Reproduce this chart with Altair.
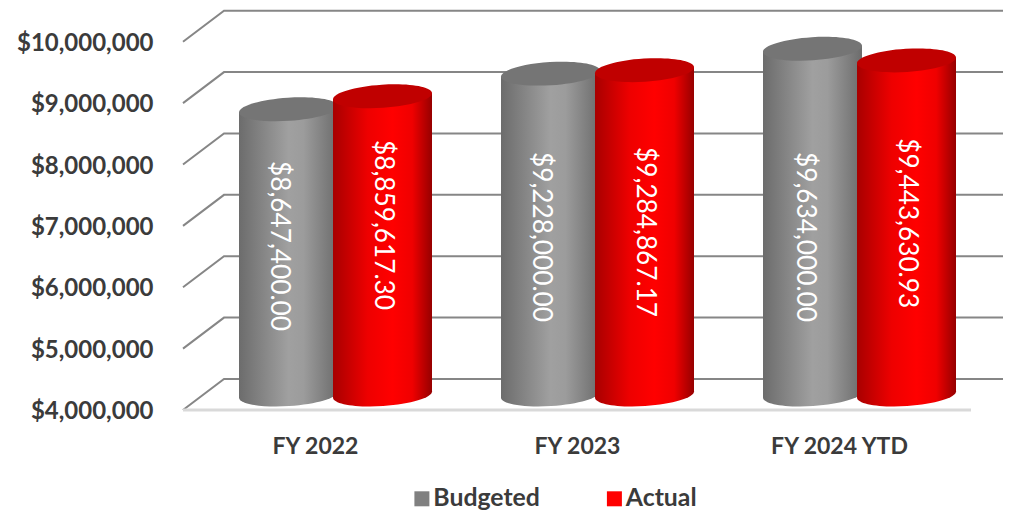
import altair as alt
import pandas as pd

categories = ["FY 2022", "FY 2023", "FY 2024 YTD"]
budgeted = [8647400.00, 9228000.00, 9634000.00]
actual = [8859617.30, 9284867.17, 9443630.93]
y_ticks = [4e6, 5e6, 6e6, 7e6, 8e6, 9e6, 10e6]
label_y_budgeted = [6672000, 6819000, 6819000]
label_y_actual = [7014000, 6899000, 7044000]

# Page geometry of the pseudo-3D frame, expressed through the scales
PX_PER_UNIT_X = 262.0
PX_PER_DOLLAR = 61.36 / 1e6
LEFT, RIGHT, CENTER0 = 183.0, 1003.0, 315.0
DEPTH_X = 41.0 / PX_PER_UNIT_X
DEPTH_Y = 31.0 / PX_PER_DOLLAR
BAR_W = 99.0 / PX_PER_UNIT_X
TILT = 3.0 / PX_PER_DOLLAR
X_DOMAIN = [(LEFT - CENTER0) / PX_PER_UNIT_X, (RIGHT - CENTER0) / PX_PER_UNIT_X]
Y_DOMAIN = [4e6, 10.55e6]
BASE = 4e6
OFFSETS = {"Budgeted": -26.5 / PX_PER_UNIT_X, "Actual": 67.5 / PX_PER_UNIT_X}
LABEL_DX = {"Budgeted": [-10, -10, -8], "Actual": [0, 0, 0]}
TEXT = "#3b3b3b"

x_scale = alt.Scale(domain=X_DOMAIN, nice=False, zero=False)
y_scale = alt.Scale(domain=Y_DOMAIN, nice=False, zero=False)

# Frame lines
frame = []
for v in y_ticks:
    frame += [
        {"k": v, "o": 0, "x": X_DOMAIN[0], "y": v},
        {"k": v, "o": 1, "x": X_DOMAIN[0] + DEPTH_X, "y": v + DEPTH_Y},
        {"k": v, "o": 2, "x": X_DOMAIN[1], "y": v + DEPTH_Y},
    ]
floor = pd.DataFrame(
    [{"k": 0, "o": 0, "x": X_DOMAIN[0], "y": BASE},
     {"k": 0, "o": 1, "x": 2.5 + 1 / PX_PER_UNIT_X, "y": BASE}]
)
grid = alt.Chart(pd.DataFrame(frame)).mark_line(color="#868686", strokeWidth=2).encode(
    x=alt.X("x:Q", scale=x_scale, title=None,
            axis=alt.Axis(values=[0, 1, 2], grid=False, domain=False, ticks=False,
                          labelExpr="['FY 2022','FY 2023','FY 2024 YTD'][datum.value]",
                          labelFont="Lato", labelFontSize=23, labelFontWeight="bold",
                          labelColor=TEXT, labelPadding=25, labelFlush=False,
                          labelOverlap=False)),
    y=alt.Y("y:Q", scale=y_scale, title=None,
            axis=alt.Axis(values=y_ticks, format="$,.0f", grid=False, domain=False, ticks=False,
                          labelFont="Lato", labelFontSize=24, labelFontWeight="bold",
                          labelColor=TEXT, labelPadding=30, labelOffset=1.5)),
    detail="k:N", order="o:Q",
)
floor_line = alt.Chart(floor).mark_line(color="#d9d9d9", strokeWidth=3).encode(
    x=alt.X("x:Q", scale=x_scale), y=alt.Y("y:Q", scale=y_scale), detail="k:N", order="o:Q"
)

ELLIPSE = "M-1,0.064 A1.002,0.234,-3.67,1,1,1,-0.064 A1.002,0.234,-3.67,1,1,-1,0.064 Z"


def grad(stops):
    return alt.Gradient(
        gradient="linear", x1=0, x2=1, y1=0, y2=0,
        stops=[alt.GradientStop(offset=o, color=c) for o, c in stops],
    )


def cylinder(series, values, stops, top_color):
    fill = grad(stops)
    caps = []
    body_layers = []
    for i, v in enumerate(values):
        c = i + OFFSETS[series]
        body = pd.DataFrame([
            {"px": c - BAR_W / 2, "hi": v + DEPTH_Y / 2 - TILT, "lo": BASE + DEPTH_Y / 2 - TILT},
            {"px": c + BAR_W / 2, "hi": v + DEPTH_Y / 2 + TILT, "lo": BASE + DEPTH_Y / 2 + TILT},
        ])
        body_layers.append(alt.Chart(body).mark_area(fill=fill, opacity=1).encode(
            x=alt.X("px:Q", scale=x_scale),
            y=alt.Y("hi:Q", scale=y_scale),
            y2=alt.Y2("lo"),
        ))
        caps.append({"x": c, "top": v + DEPTH_Y / 2, "bottom": BASE + DEPTH_Y / 2})
    caps = pd.DataFrame(caps)
    X = alt.X("x:Q", scale=x_scale)
    bottom = alt.Chart(caps).mark_point(shape=ELLIPSE, filled=True, fill=fill, size=9801, opacity=1, strokeWidth=0).encode(
        x=X, y=alt.Y("bottom:Q", scale=y_scale))
    top = alt.Chart(caps).mark_point(shape=ELLIPSE, filled=True, fill=top_color, size=9801, opacity=1, strokeWidth=0).encode(
        x=X, y=alt.Y("top:Q", scale=y_scale))
    return [bottom] + body_layers + [top]


GRAY = [(0, "#6c6c6c"), (0.5, "#a0a0a0"), (0.65, "#9c9c9c"), (1, "#6c6c6c")]
RED = [(0, "#a80000"), (0.35, "#ee0000"), (0.6, "#ff0000"), (0.8, "#f00000"), (1, "#960000")]

layers = [grid, floor_line]
layers += cylinder("Budgeted", budgeted, GRAY, "#757575")
layers += cylinder("Actual", actual, RED, "#c00000")


def labels(series, values, ys):
    rows = []
    for i, v in enumerate(values):
        rows.append({"x": i + OFFSETS[series] + LABEL_DX[series][i] / PX_PER_UNIT_X,
                     "y": ys[i], "t": f"${v:,.2f}"})
    return alt.Chart(pd.DataFrame(rows)).mark_text(
        angle=90, align="center", baseline="middle", font="Lato", fontSize=26.2, color="white"
    ).encode(x=alt.X("x:Q", scale=x_scale), y=alt.Y("y:Q", scale=y_scale), text="t:N")


layers += [labels("Budgeted", budgeted, label_y_budgeted), labels("Actual", actual, label_y_actual)]

legend_data = pd.DataFrame({"s": ["Budgeted", "Actual"], "x": [0, 0], "y": [5e6, 5e6]})
legend_layer = alt.Chart(legend_data).mark_square(opacity=0, size=1).encode(
    x=alt.X("x:Q", scale=x_scale), y=alt.Y("y:Q", scale=y_scale),
    color=alt.Color("s:N", title=None,
                    scale=alt.Scale(domain=["Budgeted", "Actual"], range=["#808080", "#ff0000"]),
                    legend=alt.Legend(orient="none", legendX=226.5, legendY=478, direction="horizontal",
                                      columns=2, columnPadding=61.5, symbolType="square", symbolSize=225,
                                      symbolOpacity=1, symbolStrokeWidth=0, labelFont="Lato",
                                      labelFontSize=24.8, labelFontWeight="bold", labelColor=TEXT,
                                      labelOffset={"expr": "-1"}, titlePadding=0)),
)
layers.append(legend_layer)

chart = alt.layer(*layers).resolve_scale(x="shared", y="shared").properties(
    width=RIGHT - LEFT, height=402, background="white",
    padding={"left": LEFT - 8, "top": 0, "right": 0, "bottom": 100},
    autosize=alt.AutoSizeParams(type="none"),
).configure_view(stroke=None)

chart.save("out.html", embed_options={"renderer": "svg", "actions": False})
